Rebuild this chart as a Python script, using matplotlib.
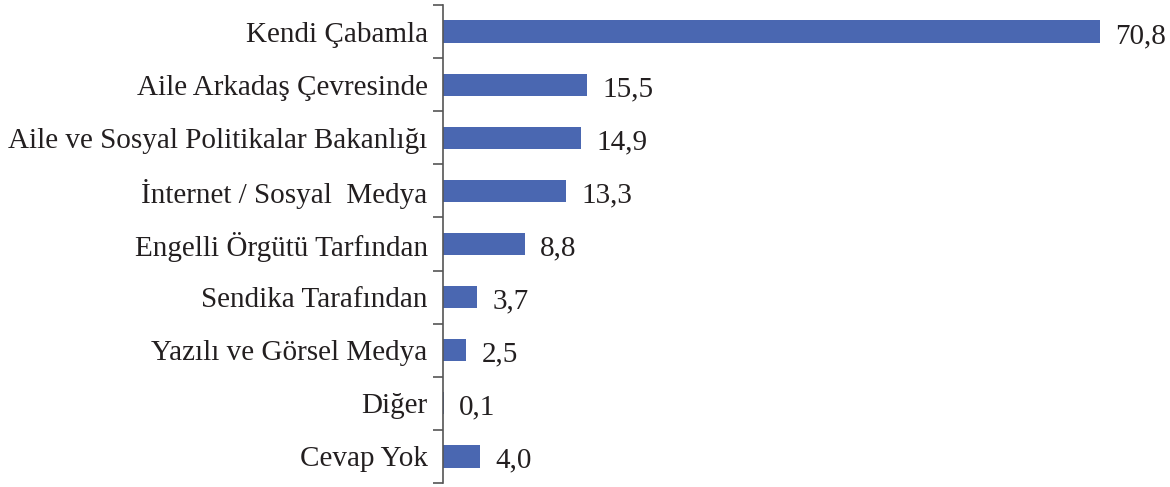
import matplotlib.pyplot as plt
import numpy as np

# data
categories = ["Kendi Çabamla", "Aile Arkadaş Çevresinde",
              "Aile ve Sosyal Politikalar Bakanlığı", "İnternet / Sosyal  Medya",
              "Engelli Örgütü Tarfından", "Sendika Tarafından",
              "Yazılı ve Görsel Medya", "Diğer", "Cevap Yok"]
values = [70.8, 15.5, 14.9, 13.3, 8.8, 3.7, 2.5, 0.1, 4.0]
labels = ["70,8", "15,5", "14,9", "13,3", "8,8", "3,7", "2,5", "0,1", "4,0"]

plt.rcParams['font.family'] = ['Liberation Serif', 'DejaVu Serif']

fig = plt.figure(figsize=(11.7, 4.87), dpi=100)
ax = fig.add_axes([443 / 1170, 4 / 487, 1 - 443 / 1170, 1 - 9 / 487])

y = np.arange(len(categories))
ax.barh(y, values, height=0.42, color="#4a67b1")
ax.set_ylim(len(categories) - 0.5, -0.5)
ax.set_xlim(0, 727 / 9.28)

for yi, v, lab in zip(y, values, labels):
    ax.annotate(lab, (v, yi), xytext=(11, -1), textcoords="offset points",
                va="center_baseline", ha="left", fontsize=21, color="#231f20")

ax.set_yticks(y)
ax.set_yticklabels(categories, fontsize=21, color="#231f20")
ax.set_yticks(np.arange(len(categories) + 1) - 0.5, minor=True)
ax.tick_params(axis="y", which="major", length=0, pad=11)
ax.tick_params(axis="y", which="minor", length=7, width=1.2, color="#555555")

for s in ["top", "right", "bottom"]:
    ax.spines[s].set_visible(False)
ax.spines["left"].set_color("#555555")
ax.spines["left"].set_linewidth(1.2)
ax.set_xticks([])

fig.savefig("out.png", dpi=100)
